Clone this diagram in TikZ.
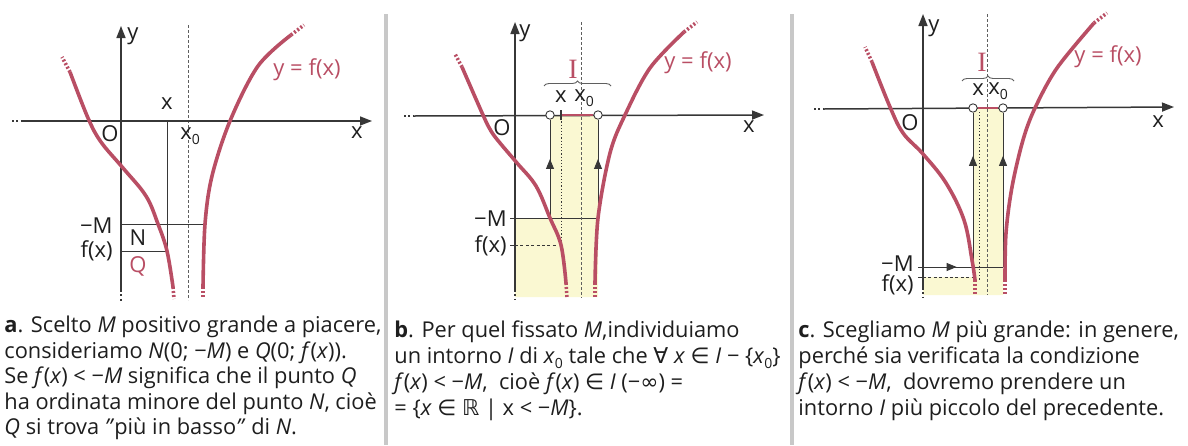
\documentclass[tikz,border=0pt]{standalone}
\usepackage{fontspec}
\setmainfont{Open Sans}
\newfontfamily\dejavu{DejaVu Sans}
\newfontfamily\serifI{Liberation Serif}
\usetikzlibrary{arrows.meta,decorations.markings,decorations.pathreplacing}
\definecolor{curvered}{RGB}{185,78,100}
\definecolor{axisgray}{RGB}{55,55,55}
\definecolor{bandyellow}{RGB}{250,248,210}
\definecolor{sepgray}{RGB}{200,200,200}
\definecolor{txt}{RGB}{30,30,30}
\newcommand{\mysub}[1]{\raisebox{-0.45ex}{\scriptsize #1}}
\newcommand{\dsym}[1]{{\dejavu #1}}
\tikzset{
  axisline/.style={draw=axisgray, line width=0.75pt, -{Triangle[length=6pt,width=4.5pt]}},
  axisdots/.style={draw=axisgray, line width=0.75pt, dash pattern=on 1pt off 1.2pt},
  thinline/.style={draw=axisgray, line width=0.45pt},
  asym/.style={draw=axisgray!80, line width=0.5pt, dash pattern=on 1.3pt off 1.2pt},
  dottedv/.style={draw=axisgray, line width=0.5pt, dash pattern=on 0.6pt off 1pt},
  dashedh/.style={draw=axisgray, line width=0.45pt, dash pattern=on 1.5pt off 1.2pt},
  curve/.style={draw=curvered, line width=1.8pt, line cap=butt},
  curvedots/.style={draw=curvered, line width=1.8pt, dash pattern=on 1pt off 1pt},
  band/.style={fill=bandyellow, draw=none},
  opencirc/.style={circle, draw=axisgray, fill=white, line width=0.45pt, inner sep=0pt, minimum size=4.2pt},
  lbl/.style={font=\fontsize{11}{13}\selectfont, text=txt, inner sep=0pt},
  redlbl/.style={font=\fontsize{11}{13}\selectfont, text=curvered, inner sep=0pt},
  ilbl/.style={font=\serifI\fontsize{14}{16}\selectfont, text=curvered, inner sep=0pt},
  captext/.style={font=\fontsize{10.9}{13}\selectfont, text=txt, inner sep=0pt, align=left, anchor=north west},
  midarr/.style={postaction={decorate}, decoration={markings, mark=at position #1 with {\arrow{Triangle[length=5pt,width=4pt]}}}},
  brc/.style={draw=axisgray!80, line width=0.45pt, decorate, decoration={brace, amplitude=2.5pt}},
  sep/.style={draw=sepgray, line width=1.6pt}
}
\begin{document}
\begin{tikzpicture}[x=0.5pt,y=-0.5pt]
\useasboundingbox (0,0) rectangle (1188,445);
\fill[white] (0,0) rectangle (1188,445);
% separators
\draw[sep] (386,14) -- (386,445);
\draw[sep] (792,14) -- (792,445);

% ================= PANEL A =================
\draw[thinline] (167,121) -- (167,251);
\draw[thinline] (121,224) -- (205,224);
\draw[thinline] (121,251) -- (167,251);
\draw[asym] (188,25) -- (188,300);
\draw[axisdots] (12,121) -- (22,121);
\draw[axisline] (22,121) -- (372,121);
\draw[axisline] (121,290) -- (121,26);
\draw[axisdots] (121,290) -- (121,301);
\draw[curve] plot[smooth, tension=0.6] coordinates {(70,72) (88,118) (101,142) (123,168) (146,196) (158,224) (167,251) (173,287)};
\draw[curvedots] (70,72) -- (62,57);
\draw[curvedots] (173,287) -- (174,299);
\draw[curve] plot[smooth, tension=0.55] coordinates {(203,287) (205,224) (212,176) (230,121) (258,66) (291,35)};
\draw[curvedots] (291,35) -- (304,25);
\draw[curvedots] (203,287) -- (203,299);
\node[lbl] (ay) at (133,36) {y};
\node[lbl] (aO) at (110,134) {O};
\node[lbl] (ax) at (357,133) {x};
\node[lbl] (apx) at (167,104) {x};
\node[lbl, anchor=west] (ax0) at (180,136) {x\mysub{0}};
\node[lbl, anchor=east] (aM) at (113,226) {−M};
\node[lbl, anchor=east] (afx) at (113,251) {f(x)};
\node[lbl] (aN) at (138,238) {N};
\node[redlbl] (aQ) at (138,266) {Q};
\node[redlbl] (af) at (307,70) {y = f(x)};
\node[captext, font=\fontsize{10.9}{12.7}\selectfont] (acap) at (4,316) {\textbf{a}. Scelto \textit{M} positivo grande a piacere,\\
consideriamo \textit{N}(0; −\textit{M}) e \textit{Q}(0; \textit{f}(\textit{x})).\\
Se \textit{f}(\textit{x}) < −\textit{M} significa che il punto \textit{Q}\\
ha ordinata minore del punto \textit{N}, cioè\\
\textit{Q} si trova \textit{"}più in basso\textit{"} di \textit{N}.};

% ================= PANEL B =================
\fill[band] (515,218) -- (550,218) -- (550,115) -- (598,115) -- (598,297) -- (515,297) -- cycle;
\draw[thinline] (515,218) -- (598,218);
\draw[dashedh] (515,245) -- (557,245);
\draw[dottedv] (561,115) -- (561,243);
\draw[asym] (581,22) -- (581,298);
\draw[axisdots] (404,116) -- (414,116);
\draw[axisline] (414,116) -- (764,115);
\draw[axisline] (515,290) -- (515,22);
\draw[axisdots] (515,290) -- (515,300);
\draw[thinline] (510,218) -- (515,218);
\draw[thinline] (510,245) -- (515,245);
\node[opencirc] (bl) at (550,115) {};
\node[opencirc] (br) at (598,115) {};
\draw[thinline, midarr=0.6] (550,218) -- (bl);
\draw[thinline, midarr=0.6] (598,218) -- (br);
\draw[draw=curvered, line width=1.3pt] (561,115) -- (br.west);
\draw[draw=axisgray, line width=0.6pt] (561,110) -- (561,120);
\draw[curve] plot[smooth, tension=0.6] coordinates {(462,67) (483,115) (491,131) (500,143) (517,163) (536,186) (550,218) (561,245) (566,283)};
\draw[curvedots] (462,67) -- (455,54);
\draw[curvedots] (566,283) -- (567,298);
\draw[curve] plot[smooth, tension=0.55] coordinates {(595,283) (598,218) (610,153) (625,115) (650,68) (684,32)};
\draw[curvedots] (684,32) -- (697,22);
\draw[curvedots] (595,283) -- (595,298);
\draw[brc] (544,86) -- (611,86);
\node[ilbl] (bI) at (573,69) {I};
\node[lbl] (by) at (525,33) {y};
\node[lbl] (bO) at (502,128) {O};
\node[lbl] (bx) at (749,127) {x};
\node[lbl] (bpx) at (561,97) {x};
\node[lbl, anchor=west] (bx0) at (574,98) {x\mysub{0}};
\node[lbl, anchor=east] (bM) at (507,219) {−M};
\node[lbl, anchor=east] (bfx) at (507,246) {f(x)};
\node[redlbl] (bf) at (698,63) {y = f(x)};
\node[captext] (bcap) at (394,320) {\textbf{b}. Per quel fissato \textit{M},individuiamo\\
un intorno \textit{I} di \textit{x}\mysub{0} tale che \dsym{∀} \textit{x} \dsym{∈} \textit{I} − \{\textit{x}\mysub{0}\}\\
\textit{f}(\textit{x}) < −\textit{M},\ \ cioè \textit{f}(\textit{x}) \dsym{∈} \textit{I} (−\dsym{∞}) =\\
= \{\textit{x} \dsym{∈} \dsym{ℝ} | x < −\textit{M}\}.};

% ================= PANEL C =================
\fill[band] (923,277) -- (973,277) -- (973,108) -- (1003,108) -- (1003,295) -- (923,295) -- cycle;
\draw[dashedh] (923,277) -- (975,277);
\draw[dottedv] (979,112) -- (979,280);
\draw[asym] (987,14) -- (987,295);
\draw[axisdots] (814,109) -- (824,109);
\draw[axisline] (824,109) -- (1174,107);
\draw[axisline] (923,288) -- (923,14);
\draw[axisdots] (923,288) -- (923,297);
\draw[thinline] (918,267) -- (923,267);
\draw[thinline] (918,277) -- (923,277);
\node[opencirc] (cl) at (973,108) {};
\node[opencirc] (cr) at (1003,108) {};
\draw[thinline, midarr=0.42] (923,267) -- (1003,267);
\draw[thinline, midarr=0.72] (973,267) -- (cl);
\draw[thinline, midarr=0.72] (1003,267) -- (cr);
\draw[draw=curvered, line width=1.3pt] (978,108) -- (cr.west);
\draw[curve] plot[smooth, tension=0.6] coordinates {(872,62) (890,107) (903,133) (923,154) (946,183) (964,220) (972,260) (975,280)};
\draw[curvedots] (872,62) -- (865,47);
\draw[curvedots] (975,280) -- (975,294);
\draw[curve] plot[smooth, tension=0.55] coordinates {(1005,280) (1006,233) (1012,187) (1023,140) (1035,108) (1057,68) (1094,23)};
\draw[curvedots] (1094,23) -- (1107,13);
\draw[curvedots] (1005,280) -- (1005,294);
\draw[brc] (962,81) -- (1014,81);
\node[ilbl] (cI) at (982,62) {I};
\node[lbl] (cy) at (934,28) {y};
\node[lbl] (cO) at (910,123) {O};
\node[lbl] (cx) at (1158,122) {x};
\node[lbl] (cpx) at (978,90) {x};
\node[lbl, anchor=west] (cx0) at (988,91) {x\mysub{0}};
\node[lbl, anchor=east] (cM) at (914,264) {−M};
\node[lbl, anchor=east] (cfx) at (914,285) {f(x)};
\node[redlbl] (cf) at (1108,57) {y = f(x)};
\node[captext] (ccap) at (798,320) {\textbf{c}. Scegliamo \textit{M} più grande: in genere,\\
perché sia verificata la condizione\\
\textit{f}(\textit{x}) < −\textit{M},\ \ dovremo prendere un\\
intorno \textit{I} più piccolo del precedente.};
\end{tikzpicture}
\end{document}
